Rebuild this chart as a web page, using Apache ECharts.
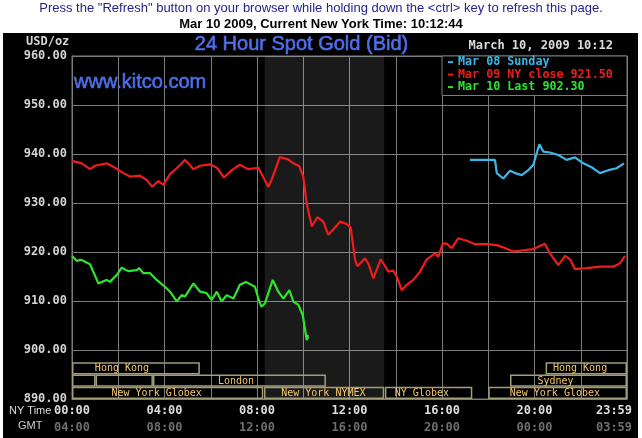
<!DOCTYPE html>
<html><head><meta charset="utf-8">
<script src="https://cdn.jsdelivr.net/npm/echarts@6/dist/echarts.min.js"></script>
<style>html,body{margin:0;padding:0;background:#fff}#c{width:642px;height:438px}</style>
</head><body><div id="c"></div>
<script>
// ---- data ----
const seriesNames = ['Mar 08 Sunday', 'Mar 09 NY close 921.50', 'Mar 10 Last 902.30'];

const cyanHours = [17.21, 18.29, 18.37, 18.65, 18.94, 19.16, 19.45, 19.73, 19.95, 20.21, 20.38, 20.67, 21.03, 21.39, 21.75, 22.11, 22.47, 22.83, 23.19, 23.55, 23.87];
const cyanPrices = [938.8, 938.8, 936.1, 935.0, 936.6, 936.1, 935.7, 936.7, 937.8, 942.0, 940.5, 940.3, 939.8, 938.8, 939.3, 938.1, 937.3, 936.1, 936.7, 937.1, 938.1];

const redHours = [0.0, 0.42, 0.78, 0.99, 1.50, 1.86, 2.22, 2.51, 2.94, 3.23, 3.47, 3.73, 3.95, 4.24, 4.53, 4.89, 5.25, 5.54, 5.97, 6.26, 6.57, 6.91, 7.26, 7.62, 8.06, 8.30, 8.49, 8.64, 8.99, 9.35, 9.57, 9.83, 10.00, 10.15, 10.37, 10.61, 10.87, 11.08, 11.30, 11.59, 11.88, 12.05, 12.24, 12.34, 12.67, 12.81, 13.03, 13.35, 13.46, 13.68, 13.89, 14.04, 14.26, 14.47, 14.76, 15.05, 15.34, 15.70, 15.84, 16.03, 16.20, 16.42, 16.70, 17.07, 17.43, 17.93, 18.37, 18.72, 19.08, 19.95, 20.45, 20.67, 21.03, 21.32, 21.54, 21.75, 22.26, 22.83, 23.41, 23.70, 23.91];
const redPrices = [938.6, 938.1, 936.9, 937.6, 938.1, 937.2, 936.1, 935.4, 935.6, 934.7, 933.3, 934.5, 933.7, 935.9, 937.1, 938.8, 936.9, 937.6, 937.9, 937.2, 935.2, 936.7, 937.8, 936.9, 937.2, 935.0, 933.3, 934.8, 939.4, 938.9, 938.1, 937.5, 935.4, 929.9, 925.2, 927.1, 926.2, 923.5, 924.6, 926.2, 925.7, 925.0, 918.4, 917.1, 918.7, 917.7, 914.6, 918.5, 917.7, 916.0, 916.2, 915.0, 912.2, 913.3, 914.3, 916.0, 918.5, 919.7, 919.0, 921.7, 921.7, 920.8, 922.8, 922.3, 921.6, 921.6, 921.4, 920.8, 920.1, 920.6, 921.7, 919.7, 917.3, 919.2, 918.5, 916.5, 916.7, 917.0, 917.0, 917.7, 919.2];

const greenHours = [0.0, 0.20, 0.39, 0.78, 1.14, 1.50, 1.64, 1.93, 2.15, 2.43, 2.80, 2.90, 3.08, 3.37, 3.66, 4.02, 4.24, 4.53, 4.74, 4.89, 5.25, 5.54, 5.82, 6.04, 6.26, 6.47, 6.69, 6.98, 7.26, 7.52, 7.91, 8.10, 8.20, 8.35, 8.68, 8.92, 9.14, 9.40, 9.57, 9.79, 9.98, 10.08, 10.15, 10.19, 10.20];
const greenPrices = [919.2, 918.2, 918.4, 917.5, 913.6, 914.3, 913.9, 915.3, 916.8, 916.1, 916.3, 916.7, 915.7, 915.7, 914.3, 912.9, 911.9, 909.9, 911.2, 910.9, 913.6, 911.9, 911.6, 910.2, 911.9, 909.9, 911.2, 910.5, 913.3, 913.9, 912.9, 909.9, 908.8, 909.6, 914.3, 911.9, 910.5, 912.2, 909.9, 909.2, 907.1, 904.1, 902.0, 903.1, 902.3];

const nyTimeLabels = ['00:00', '04:00', '08:00', '12:00', '16:00', '20:00', '23:59'];
const gmtLabels = ['04:00', '08:00', '12:00', '16:00', '20:00', '00:00', '03:59'];

const nymexOpen = 8.33, nymexClose = 13.5;

const sessionLabels = ['Hong Kong', '', '', 'London', 'New York Globex', 'New York NYMEX', 'NY Globex', 'New York Globex', 'Sydney', 'Hong Kong'];
const sessionStart  = [0, 0, 1.02, 3.5, 0, 8.3, 13.53, 18.0, 18.94, 20.48];
const sessionEnd    = [5.53, 1.02, 3.5, 10.98, 8.27, 13.5, 17.31, 24, 24, 24];
const sessionRow    = [0, 1, 1, 1, 2, 2, 2, 2, 1, 0];
const sessionLabelHour = [2.16, 0, 0, 7.09, 3.66, 10.87, 15.13, 20.88, 20.91, 21.97];

// ---- chart ----
const colors = ['#3ab8ea', '#ee1c1c', '#2ee42e'];
const mono = '"DejaVu Sans Mono", monospace';
const sans = '"Liberation Sans", Arial, sans-serif';

const chart = echarts.init(document.getElementById('c'));

function pairs(h, p) { return h.map((x, i) => [x, p[i]]); }

function timeFormatter(labels) {
  return v => {
    if (v % 4 !== 0) return '';
    const t = labels[v / 4];
    return v === 24 ? '{m|' + t + '}' : t;
  };
}

const option = {
  backgroundColor: '#ffffff',
  animation: false,
  grid: { left: 72, right: 15, top: 56, bottom: 39, show: true, borderColor: '#7c7c7c', borderWidth: 1, containLabel: false },
  xAxis: [{
    type: 'value', min: 0, max: 24, interval: 2,
    axisLine: { show: true, lineStyle: { color: '#7c7c7c' } },
    axisTick: { show: false },
    splitLine: { show: true, lineStyle: { color: '#7c7c7c', width: 1 } },
    axisLabel: {
      color: '#dcdcdc', fontFamily: mono, fontWeight: 'bold', fontSize: 12, margin: 6,
      formatter: timeFormatter(nyTimeLabels),
      rich: { m: { color: '#dcdcdc', fontFamily: mono, fontWeight: 'bold', fontSize: 12, padding: [0, 26, 0, 0] } }
    }
  }, {
    type: 'value', min: 0, max: 24, interval: 2, position: 'bottom', offset: 17,
    axisLine: { show: false }, axisTick: { show: false }, splitLine: { show: false },
    axisLabel: {
      color: '#6e6e6e', fontFamily: mono, fontWeight: 'bold', fontSize: 12, margin: 6,
      formatter: timeFormatter(gmtLabels),
      rich: { m: { color: '#6e6e6e', fontFamily: mono, fontWeight: 'bold', fontSize: 12, padding: [0, 26, 0, 0] } }
    }
  }],
  yAxis: {
    type: 'value', min: 890, max: 960, interval: 10,
    axisLine: { show: true, lineStyle: { color: '#7c7c7c' } },
    axisTick: { show: false },
    splitLine: { show: true, lineStyle: { color: '#7c7c7c', width: 1 } },
    axisLabel: { color: '#d4d4d4', fontFamily: mono, fontWeight: 'bold', fontSize: 12, margin: 5, formatter: v => v.toFixed(2) }
  },
  legend: {
    orient: 'vertical', left: 448, top: 56, padding: 0,
    itemWidth: 5, itemHeight: 2, itemGap: 0.3, icon: 'rect', selectedMode: false, z: 5,
    textStyle: { fontFamily: mono, fontSize: 11.7, fontWeight: 'bold', lineHeight: 12.2 },
    data: seriesNames.map((n, i) => ({ name: n, itemStyle: { color: colors[i] }, textStyle: { color: colors[i] } }))
  },
  graphic: [
    { type: 'rect', z: -10, shape: { x: 3, y: 33, width: 635, height: 405 }, style: { fill: '#000' } },
    { type: 'text', z: 10, style: { x: 321, y: 8, align: 'center', verticalAlign: 'middle', text: 'Press the "Refresh" button on your browser while holding down the <ctrl> key to refresh this page.', fill: '#24248c', font: '13px ' + sans } },
    { type: 'text', z: 10, style: { x: 321, y: 24, align: 'center', verticalAlign: 'middle', text: 'Mar 10 2009, Current New York Time: 10:12:44', fill: '#000', font: 'bold 13px ' + sans } },
    { type: 'text', z: 10, style: { x: 301.5, y: 44, align: 'center', verticalAlign: 'middle', text: '24 Hour Spot Gold (Bid)', fill: '#4f6eea', stroke: '#4f6eea', lineWidth: 0.6, font: '20px ' + sans } },
    { type: 'text', z: 10, style: { x: 74, y: 82, align: 'left', verticalAlign: 'middle', text: 'www.kitco.com', fill: '#4c6ee6', stroke: '#4c6ee6', lineWidth: 0.6, font: '20px ' + sans } },
    { type: 'text', z: 10, style: { x: 26, y: 41.5, align: 'left', verticalAlign: 'middle', text: 'USD/oz', fill: '#d4d4d4', font: 'bold 12px ' + mono } },
    { type: 'text', z: 10, style: { x: 613, y: 46, align: 'right', verticalAlign: 'middle', text: 'March 10, 2009 10:12', fill: '#dcdcdc', font: 'bold 12px ' + mono } },
    { type: 'text', z: 10, style: { x: 9, y: 411, align: 'left', verticalAlign: 'middle', text: 'NY Time', fill: '#dcdcdc', font: '11px ' + sans } },
    { type: 'text', z: 10, style: { x: 18, y: 426, align: 'left', verticalAlign: 'middle', text: 'GMT', fill: '#d0d0d0', font: '11px ' + sans } },
    { type: 'rect', z: 3, shape: { x: 442, y: 56, width: 185, height: 39.5 }, style: { fill: '#000', stroke: '#7c7c7c', lineWidth: 1 } }
  ],
  series: [
    {
      name: seriesNames[0], type: 'line', showSymbol: false, data: pairs(cyanHours, cyanPrices),
      lineStyle: { color: colors[0], width: 2.2 }, itemStyle: { color: colors[0] }, z: 3
    },
    {
      name: seriesNames[1], type: 'line', showSymbol: false, data: pairs(redHours, redPrices),
      lineStyle: { color: colors[1], width: 2.2 }, itemStyle: { color: colors[1] }, z: 3,
      markArea: {
        silent: true,
        itemStyle: { color: 'rgba(255,255,255,0.1)' },
        data: [[{ xAxis: nymexOpen }, { xAxis: nymexClose }]]
      }
    },
    {
      name: seriesNames[2], type: 'line', showSymbol: false, data: pairs(greenHours, greenPrices),
      lineStyle: { color: colors[2], width: 2.2 }, itemStyle: { color: colors[2] }, z: 3
    },
    {
      type: 'custom', silent: true, z: 4,
      data: sessionStart.map((s, i) => [s, sessionEnd[i], sessionRow[i], i, sessionLabelHour[i]]),
      renderItem: (params, api) => {
        const s = api.value(0), e = api.value(1), r = api.value(2), idx = api.value(3), lh = api.value(4);
        const x0 = api.coord([s, 890])[0], x1 = api.coord([e, 890])[0];
        const yb = api.coord([0, 890])[1], yt = api.coord([0, 900])[1];
        const rh = (yb - yt) / 4;
        const top = yb - (3 - r) * rh;
        const children = [{
          type: 'rect', shape: { x: x0 + 0.75, y: top + 0.75, width: x1 - x0 - 1.5, height: rh - 1.5 },
          style: { fill: 'none', stroke: '#a39c78', lineWidth: 1.5 }
        }];
        const label = sessionLabels[idx];
        if (label) {
          children.push({
            type: 'text',
            style: { x: api.coord([lh, 890])[0], y: top + rh / 2 + 0.5, align: 'center', verticalAlign: 'middle', text: label, fill: '#f2c66c', font: '10px ' + mono }
          });
        }
        return { type: 'group', children };
      }
    }
  ]
};
chart.setOption(option);
</script>
</body></html>
